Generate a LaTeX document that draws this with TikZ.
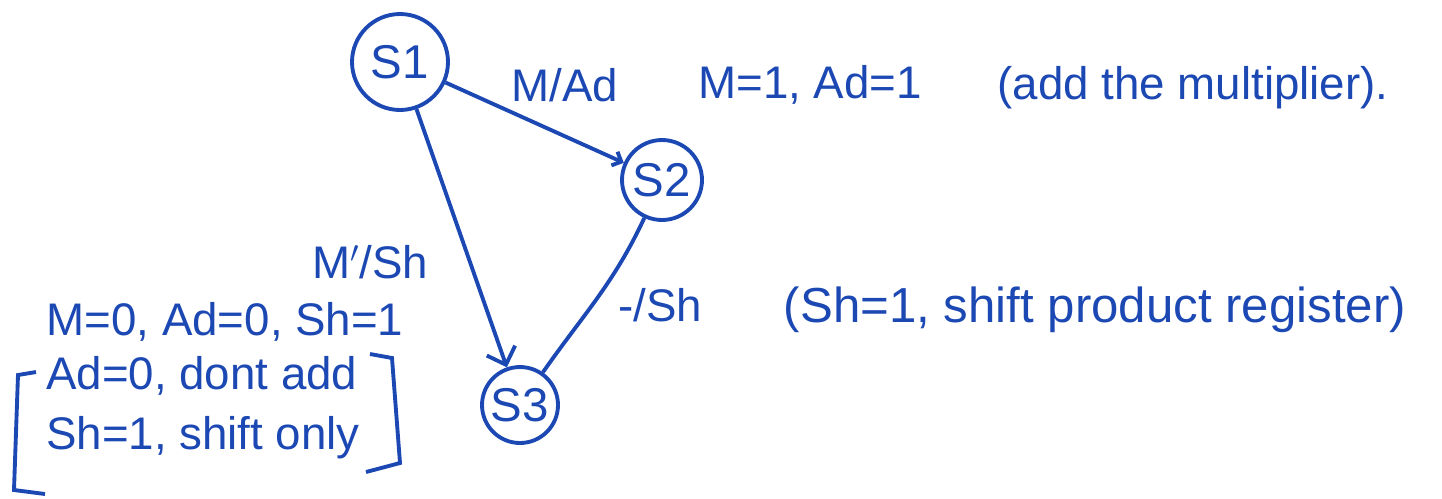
\documentclass[tikz,border=0pt]{standalone}
\usepackage{fontspec}
\setmainfont{Liberation Sans}
\usepackage{tikz}
\usetikzlibrary{arrows.meta, positioning, calc}
\definecolor{ink}{RGB}{28,72,180}

\begin{document}
\begin{tikzpicture}[x=0.02cm, y=-0.02cm, line width=2.2pt, ink,
    state/.style={draw, circle, inner sep=0pt, font=\fontsize{27}{30}\selectfont},
    hand/.style={font=\fontsize{26}{34}\selectfont, inner sep=1pt}]
            \useasboundingbox (0,0) rectangle (1442,498);
            % States
            \node[state, minimum size=1.92cm] (s1) at (400,62) {S1};
            \node[state, minimum size=1.6cm] (s2) at (662,180) {S2};
            \node[state, minimum size=1.52cm] (s3) at (520,405) {S3};
            % Transitions
            \draw[-{Straight Barb[length=1.5mm, width=3mm]}] (s1) -- (s2);
            \draw[-{Straight Barb[length=3mm, width=6mm]}] (s1) -- (s3);
            \draw (s2) to[out=-115, in=55] (s3);
            % Labels S1 -> S2
            \node[hand] (lbl12) at (565,85) {M/Ad};
            \node[hand] (out12) at (810,85) {M=1, Ad=1};
            \node[hand] (note12) at (1193,88) {(add the multiplier).};
            % Labels S1 -> S3
            \node[hand] (lbl13) at (370,262) {M$'$/Sh};
            \node[hand] (out13) at (225,322) {M=0, Ad=0, Sh=1};
            \node[hand, align=left] (note13) at (203,408) {Ad=0, dont add\\Sh=1, shift only};
            \draw (36,372) -- (18,375) -- (14,490) -- (45,494);
            \draw (370,354) -- (392,358) -- (400,463) -- (366,472);
            % Labels S2 -> S3
            \node[hand] (lbl23) at (660,305) {-/Sh};
            \node[hand, font=\fontsize{28}{34}\selectfont] (note23) at (1095,310) {(Sh=1, shift product register)};
        \end{tikzpicture}
\end{document}
